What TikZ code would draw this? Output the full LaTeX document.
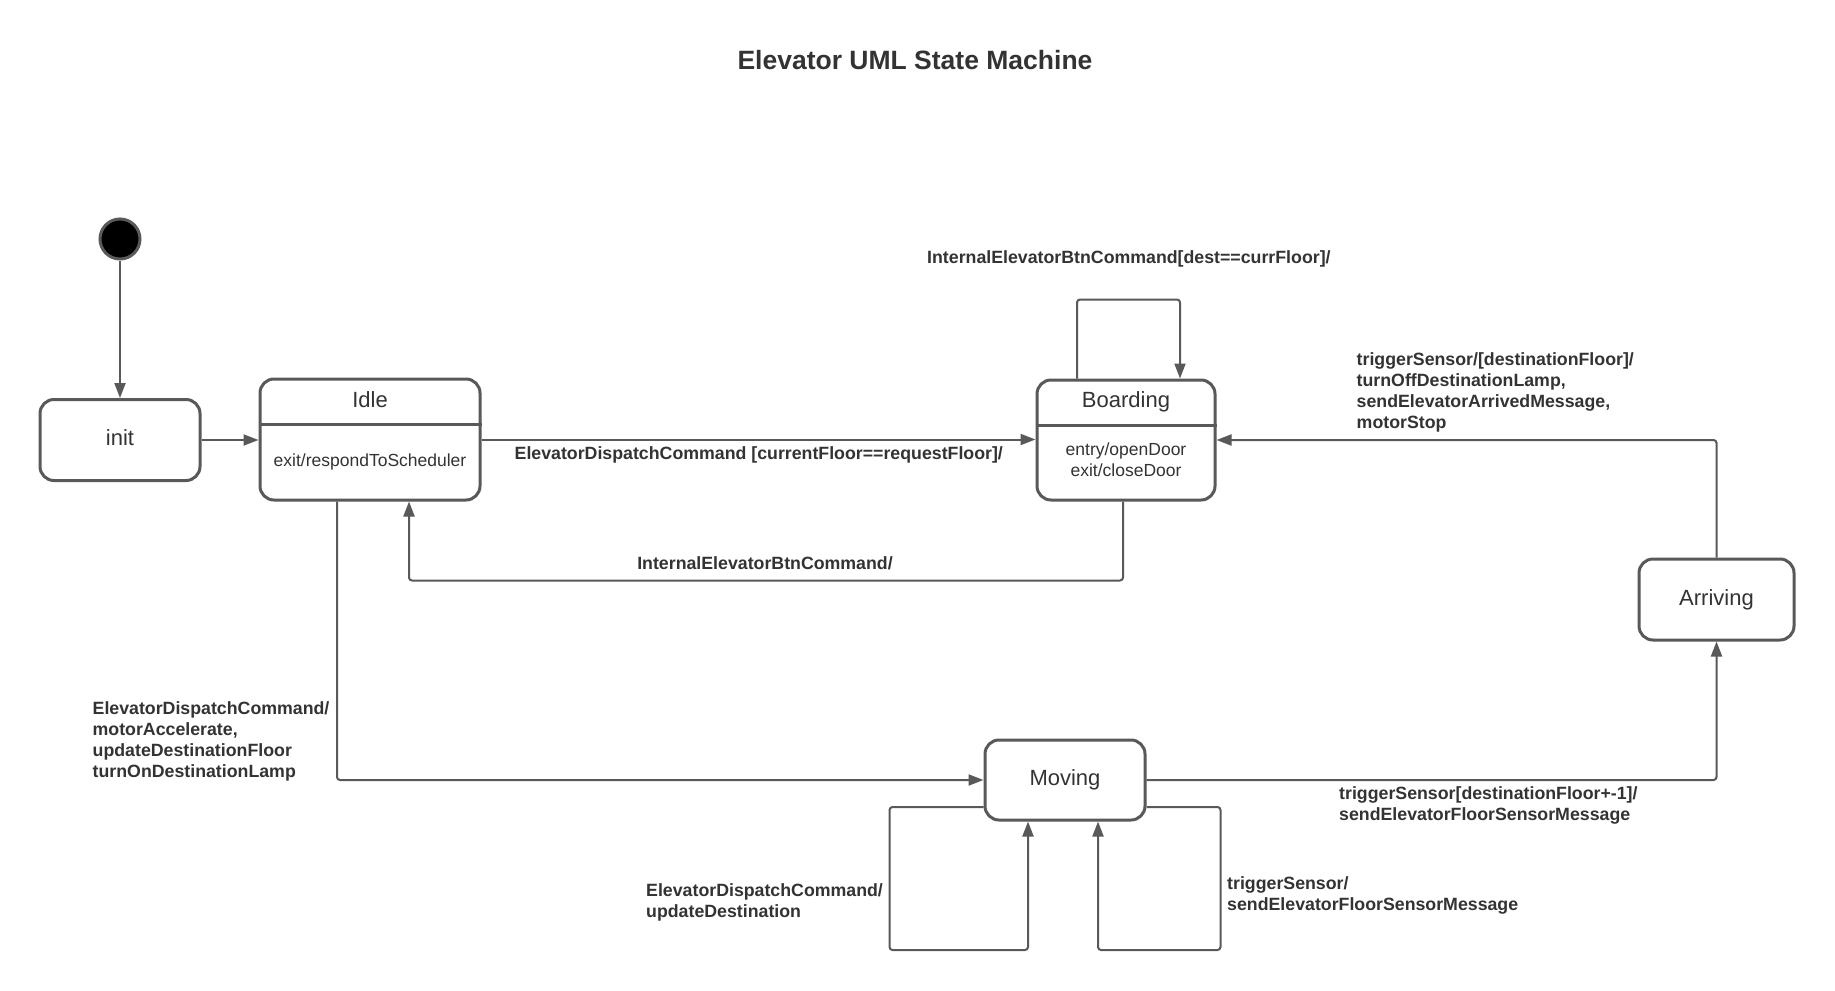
\documentclass[tikz,border=0pt]{standalone}
\usepackage{fontspec}
\setmainfont{Liberation Sans}
\usetikzlibrary{arrows.meta}
\definecolor{linegray}{HTML}{595959}
\definecolor{textgray}{HTML}{333333}
\newcommand\myttl{\fontsize{26.5}{32}\selectfont\bfseries}
\newcommand\mystate{\fontsize{22}{26}\selectfont}
\newcommand\mybody{\fontsize{17.5}{21}\selectfont}
\newcommand\mylbl{\fontsize{17.75}{21.3}\selectfont\bfseries}
\tikzset{
  statebox/.style={draw=linegray, line width=3pt, rounded corners=14pt, fill=white, inner sep=0pt},
  divline/.style={draw=linegray, line width=3pt},
  conn/.style={draw=linegray, line width=2pt, rounded corners=3pt, -{Triangle[length=15pt,width=11pt]}},
  sname/.style={font=\mystate, text=textgray, inner sep=0pt, anchor=base},
  sbody/.style={font=\mybody, text=textgray, inner sep=0pt, anchor=base, align=center},
  lbl/.style={font=\mylbl, text=textgray, inner sep=0pt, align=left},
}
\begin{document}
\begin{tikzpicture}[x=1pt,y=-1pt]
\fill[white] (0,0) rectangle (1835,990);
\useasboundingbox (0,0) rectangle (1835,990);

% title
\node[font=\myttl, text=textgray, inner sep=0pt, anchor=base] (title) at (915,69.5) {Elevator UML State Machine};

% states
\node[circle, fill=black, draw=linegray, line width=3pt, minimum size=40pt, inner sep=0pt] (start) at (120,239) {};
\node[statebox, minimum width=160pt, minimum height=81pt] (init) at (120,440) {};
\node[sname] (initname) at (120,445) {init};

\node[statebox, minimum width=220pt, minimum height=121pt] (idle) at (370,439.5) {};
\coordinate (idlediv) at (0,424);
\draw[divline] (idle.west |- idlediv) -- (idle.east |- idlediv);
\node[sname] (idlename) at (370,407) {Idle};
\node[sbody] (idlebody) at (370,466) {exit/respondToScheduler};

\node[statebox, minimum width=178pt, minimum height=120pt] (boarding) at (1126,440) {};
\coordinate (boardingdiv) at (0,425);
\draw[divline] (boarding.west |- boardingdiv) -- (boarding.east |- boardingdiv);
\node[sname] (boardingname) at (1126,407) {Boarding};
\node[sbody] (boardingbody1) at (1126,455) {entry/openDoor};
\node[sbody] (boardingbody2) at (1126,476) {exit/closeDoor};

\node[statebox, minimum width=155pt, minimum height=81pt] (arriving) at (1716.5,599.5) {};
\node[sname] (arrivingname) at (1716.5,605) {Arriving};

\node[statebox, minimum width=160pt, minimum height=80pt] (moving) at (1065,780) {};
\node[sname] (movingname) at (1065,785) {Moving};

% connectors
\draw[conn] (start) -- (init);
\draw[conn] (init.east) -- (init.east -| idle.west);
\draw[conn] (idle.east) -- (idle.east -| boarding.west);
\draw[conn] ([xshift=-49pt]boarding.north) -- ++(0,-79) -| ([xshift=54pt]boarding.north);
\draw[conn] ([xshift=-3pt]boarding.south) -- ++(0,79) -| ([xshift=39pt]idle.south);
\draw[conn] (arriving.north) |- (boarding.east);
\draw[conn] ([xshift=-33pt]idle.south) |- (moving.west);
\draw[conn] (moving.east) -| (arriving.south);
\draw[conn] ([yshift=-27pt]moving.west) -- ++(-94,0) -- ++(0,143) -| ([xshift=-37pt]moving.south);
\draw[conn] ([yshift=-27pt]moving.east) -- ++(74,0) -- ++(0,143) -| ([xshift=33pt]moving.south);

% labels
\node[lbl, anchor=base west] (l1) at (514.5,459) {ElevatorDispatchCommand [currentFloor==requestFloor]/};
\node[lbl, anchor=base west] (l2) at (927,263) {InternalElevatorBtnCommand[dest==currFloor]/};
\node[lbl, anchor=base] (l3) at (765,569) {InternalElevatorBtnCommand/};
\node[lbl, anchor=north west] (l4) at (1356.5,352) {triggerSensor/[destinationFloor]/\\turnOffDestinationLamp,\\sendElevatorArrivedMessage,\\motorStop};
\node[lbl, anchor=north west] (l5) at (92.5,701) {ElevatorDispatchCommand/\\motorAccelerate,\\updateDestinationFloor\\turnOnDestinationLamp};
\node[lbl, anchor=north west] (l6) at (1339,786) {triggerSensor[destinationFloor+-1]/\\sendElevatorFloorSensorMessage};
\node[lbl, anchor=north west] (l7) at (646,883) {ElevatorDispatchCommand/\\updateDestination};
\node[lbl, anchor=north west] (l8) at (1227,876) {triggerSensor/\\sendElevatorFloorSensorMessage};
\end{tikzpicture}
\end{document}
